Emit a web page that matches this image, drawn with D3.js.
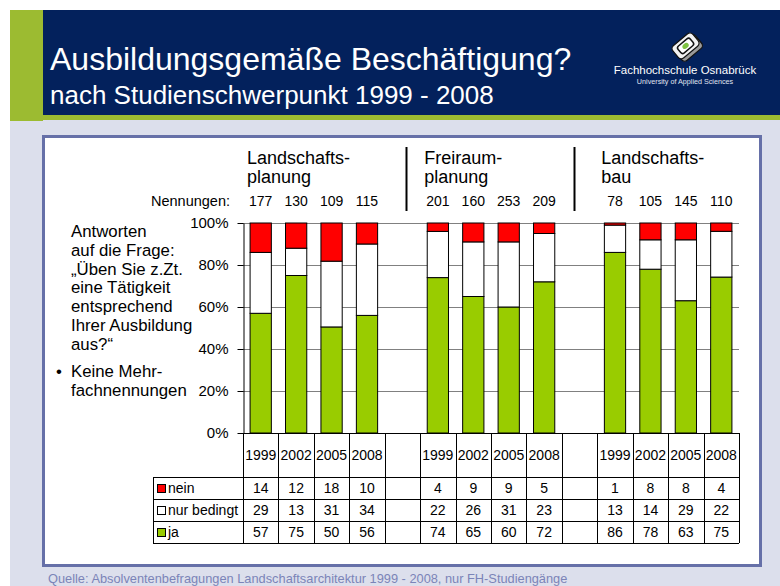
<!DOCTYPE html>
<html lang="de">
<head>
<meta charset="UTF-8">
<title>Ausbildungsgemäße Beschäftigung?</title>
<script src="https://cdn.jsdelivr.net/npm/d3@7"></script>
<style>
    body { margin: 0; background: #fff; }
    svg { display: block; font-family: "Liberation Sans", Arial, sans-serif; }
    .grid-line { stroke: #808080; stroke-width: 1; }
    .tbl-line { stroke: #000; stroke-width: 1; }
</style>
</head>
<body>
<div id="chart"></div>
<script>
    // Daten
    const groupLabels = [["Landschafts-", "planung"], ["Freiraum-", "planung"], ["Landschafts-", "bau"]];
    const years = ["1999", "2002", "2005", "2008"];
    const nennungen = [177, 130, 109, 115, 201, 160, 253, 209, 78, 105, 145, 110];
    const nein = [14, 12, 18, 10, 4, 9, 9, 5, 1, 8, 8, 4];
    const nurBedingt = [29, 13, 31, 34, 22, 26, 31, 23, 13, 14, 29, 22];
    const ja = [57, 75, 50, 56, 74, 65, 60, 72, 86, 78, 63, 75];
    const yTicks = [0, 0.2, 0.4, 0.6, 0.8, 1];
    const questionLines = ["Antworten", "auf die Frage:", "„Üben Sie z.Zt.", "eine Tätigkeit", "entsprechend", "Ihrer Ausbildung", "aus?“"];
    const bulletLines = ["Keine Mehr-", "fachnennungen"];

    const seriesKeys = ["ja", "nurBedingt", "nein"];
    const seriesColor = { ja: "#99cc00", nurBedingt: "#ffffff", nein: "#ff0000" };
    const tableRows = [
        { key: "nein", label: "nein" },
        { key: "nurBedingt", label: "nur bedingt" },
        { key: "ja", label: "ja" }
    ];

    const rows = [];
    groupLabels.forEach((g, gi) => {
        years.forEach((yr, yi) => {
            const i = gi * years.length + yi;
            rows.push({ key: gi + "-" + yr, group: gi, year: yr, n: nennungen[i],
                ja: ja[i], nurBedingt: nurBedingt[i], nein: nein[i] });
        });
    });
    const slots = [];
    rows.forEach((r, i) => {
        if (i > 0 && i % years.length === 0) slots.push("gap" + (i / years.length));
        slots.push(r.key);
    });

    const width = 780, height = 586;
    const plotLeft = 243, plotRight = 739, plotTop = 223, plotBottom = 433;

    const svg = d3.select("#chart").append("svg")
        .attr("width", width)
        .attr("height", height);

    // Folienhintergrund
    svg.append("rect").attr("x", 10).attr("y", 120).attr("width", width - 10).attr("height", height - 120).attr("fill", "#dcdfec");
    svg.append("rect").attr("x", 10).attr("y", 10).attr("width", 33).attr("height", 111).attr("fill", "#9cbb31");
    svg.append("rect").attr("x", 43).attr("y", 10).attr("width", width - 43).attr("height", 105).attr("fill", "#03215c");
    svg.append("rect").attr("x", 43).attr("y", 115).attr("width", width - 43).attr("height", 5).attr("fill", "#9cbb31");

    svg.append("text").attr("x", 50).attr("y", 70)
        .attr("fill", "#fff").attr("font-size", 32)
        .text("Ausbildungsgemäße Beschäftigung?");
    svg.append("text").attr("x", 50).attr("y", 104)
        .attr("fill", "#fff").attr("font-size", 26)
        .text("nach Studienschwerpunkt 1999 - 2008");

    // Logo
    const logo = svg.append("g").attr("transform", "translate(687,46) rotate(-40)");
    logo.append("rect").attr("x", -13).attr("y", -6).attr("width", 26).attr("height", 17).attr("rx", 4)
        .attr("fill", "#9a9a9a").attr("stroke", "#111").attr("stroke-width", 1.2);
    logo.append("rect").attr("x", -14).attr("y", -9).attr("width", 26).attr("height", 16).attr("rx", 4)
        .attr("fill", "#f2f2f2").attr("stroke", "#111").attr("stroke-width", 1.2);
    logo.append("rect").attr("x", -9).attr("y", -5.5).attr("width", 16).attr("height", 9).attr("rx", 2.5)
        .attr("fill", "#fff").attr("stroke", "#111").attr("stroke-width", 1.5);
    logo.append("ellipse").attr("cx", -1).attr("cy", -1).attr("rx", 3.5).attr("ry", 2.5).attr("fill", "#7ec242");
    svg.append("text").attr("x", 685).attr("y", 74).attr("text-anchor", "middle")
        .attr("fill", "#fff").attr("font-size", 11.5).text("Fachhochschule Osnabrück");
    svg.append("text").attr("x", 685).attr("y", 84).attr("text-anchor", "middle")
        .attr("fill", "#e0e4f0").attr("font-size", 7.2).text("University of Applied Sciences");

    // weiße Box
    svg.append("rect").attr("x", 43.5).attr("y", 136.5).attr("width", 717).attr("height", 429)
        .attr("fill", "#fff").attr("stroke", "#6670a8").attr("stroke-width", 3);

    svg.append("text").attr("x", 48).attr("y", 583)
        .attr("fill", "#7b84b8").attr("font-size", 12.8)
        .text("Quelle: Absolventenbefragungen Landschaftsarchitektur 1999 - 2008, nur FH-Studiengänge");

    // Skalen
    const x = d3.scaleBand().domain(slots).range([plotLeft, plotRight]);
    const y = d3.scaleLinear().domain([0, 1]).range([plotBottom, plotTop]);
    const barW = x.bandwidth() * 0.6;

    // Gitterlinien
    svg.append("g").selectAll("line")
        .data(yTicks.filter(d => d > 0))
        .join("line")
        .attr("class", "grid-line")
        .attr("x1", plotLeft).attr("x2", plotRight)
        .attr("y1", d => Math.round(y(d)) + 0.5).attr("y2", d => Math.round(y(d)) + 0.5);

    // gestapelte Säulen (100 %)
    const stacked = d3.stack().keys(seriesKeys).offset(d3.stackOffsetExpand)(rows);
    svg.append("g").selectAll("g")
        .data(stacked)
        .join("g")
        .attr("fill", d => seriesColor[d.key])
        .selectAll("rect")
        .data(d => d)
        .join("rect")
        .attr("x", d => x(d.data.key) + (x.bandwidth() - barW) / 2)
        .attr("y", d => y(d[1]))
        .attr("width", barW)
        .attr("height", d => y(d[0]) - y(d[1]))
        .attr("stroke", "#000")
        .attr("stroke-width", 1);

    // Y-Achse
    const yAxis = d3.axisLeft(y)
        .tickValues(yTicks)
        .tickFormat(d3.format(".0%"))
        .tickSize(6)
        .tickSizeOuter(0)
        .tickPadding(9);
    const axisG = svg.append("g")
        .attr("transform", `translate(${plotLeft + 0.5},0)`)
        .call(yAxis);
    axisG.selectAll("text").attr("font-size", 15).attr("fill", "#000")
        .attr("font-family", "'Liberation Sans', Arial, sans-serif");
    axisG.selectAll("line, path").attr("stroke", "#000");
    svg.append("line").attr("class", "tbl-line")
        .attr("x1", plotLeft).attr("x2", plotRight)
        .attr("y1", plotBottom + 0.5).attr("y2", plotBottom + 0.5);

    // Gruppenköpfe, Nennungen
    const groupFirst = groupLabels.map((g, gi) => gi + "-" + years[0]);
    groupLabels.forEach((lines, gi) => {
        const t = svg.append("text").attr("font-size", 18).attr("fill", "#000");
        lines.forEach((l, li) => {
            t.append("tspan").attr("x", x(groupFirst[gi]) + 4).attr("y", 164 + li * 18.5).text(l);
        });
    });
    const sepOffsets = [0.6, 0.35];
    ["gap1", "gap2"].forEach((g, i) => {
        const sx = Math.round(x(g) + x.bandwidth() * sepOffsets[i]) + 0.5;
        svg.append("line").attr("x1", sx).attr("x2", sx).attr("y1", 147).attr("y2", 211)
            .attr("stroke", "#000").attr("stroke-width", 2);
    });
    svg.append("text").attr("x", 230).attr("y", 206).attr("text-anchor", "end")
        .attr("font-size", 14.5).text("Nennungen:");
    svg.append("g").selectAll("text")
        .data(rows)
        .join("text")
        .attr("x", d => x(d.key) + x.bandwidth() / 2)
        .attr("y", 206)
        .attr("text-anchor", "middle")
        .attr("font-size", 14)
        .text(d => d.n);

    // Fragetext links
    const q = svg.append("text").attr("font-size", 16.8).attr("fill", "#000");
    questionLines.forEach((l, i) => {
        q.append("tspan").attr("x", 71).attr("y", 237 + i * 18.8).text(l);
    });
    svg.append("text").attr("x", 56).attr("y", 377).attr("font-size", 16.8).text("•");
    const b = svg.append("text").attr("font-size", 16.8);
    bulletLines.forEach((l, i) => {
        b.append("tspan").attr("x", 71).attr("y", 377 + i * 19).text(l);
    });

    // Datentabelle
    const tableTop = plotBottom, headBottom = 477, tableBottom = 543, legendLeft = 153;
    const ry = d3.scaleBand().domain(tableRows.map(d => d.key)).range([headBottom, tableBottom]);
    const table = svg.append("g");
    const vx = slots.map(s => x(s)).concat([plotRight]);
    table.selectAll("line.v")
        .data(vx)
        .join("line")
        .attr("class", "tbl-line")
        .attr("x1", d => Math.round(d) + 0.5).attr("x2", d => Math.round(d) + 0.5)
        .attr("y1", tableTop).attr("y2", tableBottom);
    table.selectAll("line.h")
        .data([headBottom, ry("nurBedingt"), ry("ja"), tableBottom])
        .join("line")
        .attr("class", "tbl-line")
        .attr("x1", legendLeft).attr("x2", plotRight)
        .attr("y1", d => Math.round(d) + 0.5).attr("y2", d => Math.round(d) + 0.5);
    table.append("line").attr("class", "tbl-line")
        .attr("x1", legendLeft + 0.5).attr("x2", legendLeft + 0.5)
        .attr("y1", headBottom).attr("y2", tableBottom);

    table.selectAll("text.year")
        .data(rows)
        .join("text")
        .attr("x", d => x(d.key) + x.bandwidth() / 2)
        .attr("y", (tableTop + headBottom) / 2 + 5)
        .attr("text-anchor", "middle")
        .attr("font-size", 14)
        .text(d => d.year);

    tableRows.forEach(tr => {
        const cy = ry(tr.key) + ry.bandwidth() / 2;
        table.append("rect").attr("x", legendLeft + 4.5).attr("y", Math.round(cy - 4) + 0.5)
            .attr("width", 8).attr("height", 8)
            .attr("fill", seriesColor[tr.key]).attr("stroke", "#000").attr("stroke-width", 1);
        table.append("text").attr("x", legendLeft + 15).attr("y", cy + 5)
            .attr("font-size", 14).text(tr.label);
        table.append("g").selectAll("text")
            .data(rows)
            .join("text")
            .attr("x", d => x(d.key) + x.bandwidth() / 2)
            .attr("y", cy + 5)
            .attr("text-anchor", "middle")
            .attr("font-size", 14)
            .text(d => d[tr.key]);
    });
</script>
</body>
</html>
